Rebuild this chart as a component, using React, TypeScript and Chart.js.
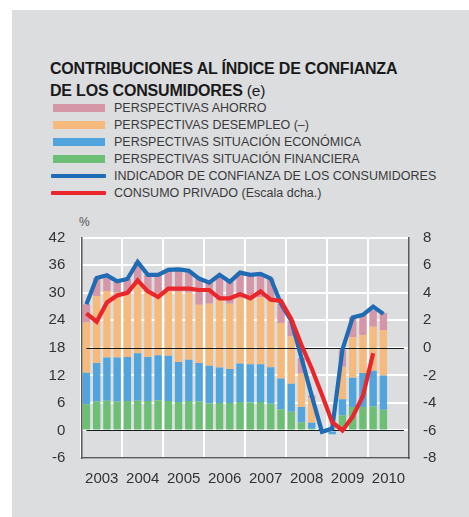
import React, { useEffect, useRef } from 'react';
import { Chart, registerables } from 'chart.js';

Chart.register(...registerables);

const years = ['2003', '2004', '2005', '2006', '2007', '2008', '2009', '2010'];
const quarterNames = ['T1', 'T2', 'T3', 'T4'];
const categories = years.flatMap((y) => quarterNames.map((q) => `${y} ${q}`));

const leftTicks = { min: -6, max: 42, step: 6 };
const rightTicks = { min: -8, max: 8, step: 2 };

const situacionFinanciera = [5.7, 6.3, 6.5, 6.3, 6.4, 6.5, 6.4, 6.6, 6.4, 6.2, 6.4, 6.3, 5.9, 6.0, 6.0, 6.2, 6.1, 6.2, 5.8, 4.6, 4.1, 1.8, 0.4, 0.1, 0.3, 3.3, 5.1, 5.1, 5.2, 4.5];
const situacionEconomica = [6.9, 8.4, 9.4, 9.6, 9.6, 10.3, 9.6, 9.8, 9.9, 8.7, 9.0, 8.4, 8.2, 7.7, 7.4, 8.4, 8.3, 8.2, 8.0, 6.7, 6.1, 3.3, 1.3, 0.2, -0.8, 3.5, 6.4, 7.4, 7.8, 7.5];
const desempleo = [10.9, 14.6, 14.5, 14.1, 13.8, 15.5, 14.1, 13.5, 14.0, 15.3, 14.6, 12.7, 13.5, 14.8, 14.2, 14.2, 14.4, 14.6, 14.5, 12.1, 10.3, 7.3, 5.3, 0, 0.4, 7.1, 8.8, 8.3, 9.6, 9.9];
const ahorro = [4.0, 3.9, 3.4, 2.5, 3.2, 4.4, 3.8, 4.0, 4.7, 4.9, 4.8, 5.7, 4.6, 5.4, 4.8, 5.6, 5.1, 5.1, 4.8, 4.2, 3.4, 3.4, 0.6, 0, 0, 3.7, 4.4, 4.4, 3.6, 3.7];
const indicadorConfianza = [27.5, 33.2, 33.8, 32.5, 33.0, 36.7, 33.9, 33.9, 35.0, 35.1, 34.8, 33.1, 32.2, 33.9, 32.4, 34.4, 33.9, 34.1, 33.1, 27.6, 23.9, 15.8, 7.6, -0.3, 0.4, 17.6, 24.6, 25.2, 27.0, 25.4];
const consumoPrivado = [2.5, 1.9, 3.3, 3.8, 4.0, 4.9, 4.1, 3.7, 4.3, 4.3, 4.3, 4.2, 4.2, 3.6, 3.6, 3.9, 3.6, 4.1, 3.5, 3.4, 2.1, 0.2, -1.5, -3.4, -5.4, -6.0, -5.0, -3.5, -0.4];
const referenceLeft = [0, 18];

const COLORS = {
  pink: '#d597a7',
  orange: '#f7ba7d',
  blue: '#52a4dc',
  green: '#6cbf74',
  lineBlue: '#1f6cb4',
  lineRed: '#e8262b',
};

const legendItems = [
  { label: 'PERSPECTIVAS AHORRO', color: COLORS.pink, type: 'box' },
  { label: 'PERSPECTIVAS DESEMPLEO (–)', color: COLORS.orange, type: 'box' },
  { label: 'PERSPECTIVAS SITUACIÓN ECONÓMICA', color: COLORS.blue, type: 'box' },
  { label: 'PERSPECTIVAS SITUACIÓN FINANCIERA', color: COLORS.green, type: 'box' },
  { label: 'INDICADOR DE CONFIANZA DE LOS CONSUMIDORES', color: COLORS.lineBlue, type: 'line' },
  { label: 'CONSUMO PRIVADO (Escala dcha.)', color: COLORS.lineRed, type: 'line' },
];

const FONT = "'Liberation Sans', Arial, Helvetica, sans-serif";

const refLinesPlugin = {
  id: 'refLines',
  afterDatasetDraw(chart: any, args: any) {
    if (args.index !== 0) return;
    const { ctx, scales } = chart;
    const x0 = scales.x.getPixelForValue(0);
    const x1 = scales.x.getPixelForValue(categories.length - 1);
    ctx.save();
    ctx.strokeStyle = '#1a1a1a';
    ctx.lineWidth = 1.2;
    referenceLeft.forEach((v) => {
      const y = Math.round(scales.y.getPixelForValue(v)) + 0.5;
      ctx.beginPath();
      ctx.moveTo(x0, y);
      ctx.lineTo(x1, y);
      ctx.stroke();
    });
    ctx.restore();
  },
};

export default function App() {
  const canvasRef = useRef<HTMLCanvasElement | null>(null);

  useEffect(() => {
    if (!canvasRef.current) return;
    const barCommon = {
      type: 'bar' as const,
      yAxisID: 'y',
      stack: 'c',
      order: 2,
      barPercentage: 0.72,
      categoryPercentage: 1,
      borderWidth: 0,
    };
    const chart = new Chart(canvasRef.current, {
      type: 'bar',
      data: {
        labels: categories,
        datasets: [
          { ...barCommon, label: 'PERSPECTIVAS SITUACIÓN FINANCIERA', data: situacionFinanciera, backgroundColor: COLORS.green },
          { ...barCommon, label: 'PERSPECTIVAS SITUACIÓN ECONÓMICA', data: situacionEconomica, backgroundColor: COLORS.blue },
          { ...barCommon, label: 'PERSPECTIVAS DESEMPLEO (–)', data: desempleo, backgroundColor: COLORS.orange },
          { ...barCommon, label: 'PERSPECTIVAS AHORRO', data: ahorro, backgroundColor: COLORS.pink },
          {
            type: 'line',
            label: 'INDICADOR DE CONFIANZA DE LOS CONSUMIDORES',
            data: indicadorConfianza,
            yAxisID: 'y',
            borderColor: COLORS.lineBlue,
            borderWidth: 4.2,
            pointRadius: 0,
            tension: 0,
            fill: false,
            order: 1,
          },
          {
            type: 'line',
            label: 'CONSUMO PRIVADO (Escala dcha.)',
            data: consumoPrivado,
            yAxisID: 'y2',
            borderColor: COLORS.lineRed,
            borderWidth: 4.2,
            pointRadius: 0,
            tension: 0,
            fill: false,
            order: 0,
          },
        ] as any,
      },
      options: {
        responsive: false,
        animation: false,
        devicePixelRatio: 1,
        layout: { padding: { left: 21.3, right: 0, top: 237.7, bottom: 19 } },
        plugins: { legend: { display: false }, tooltip: { enabled: false }, title: { display: false } },
        scales: {
          x: {
            type: 'category',
            offset: true,
            grid: {
              offset: true,
              drawTicks: false,
              lineWidth: 2,
              color: (c: any) => (c.index % 4 === 0 ? '#ffffff' : 'rgba(0,0,0,0)'),
            },
            border: { display: true, color: '#5a5a5a', width: 1.5 },
            ticks: {
              autoSkip: false,
              maxRotation: 0,
              minRotation: 0,
              padding: 12,
              labelOffset: 5.12,
              color: '#333',
              font: { family: FONT, size: 15 },
              callback: (_v: any, i: number) => (i % 4 === 1 ? years[Math.floor(i / 4)] : ''),
            },
            afterFit: (s: any) => { s.height = 40; },
          },
          y: {
            position: 'left',
            min: leftTicks.min,
            max: leftTicks.max,
            grid: { color: '#ffffff', lineWidth: 2, drawTicks: false },
            border: { display: true, color: '#5a5a5a', width: 1.5 },
            ticks: { stepSize: leftTicks.step, padding: 16, color: '#333', font: { family: FONT, size: 15 } },
            afterFit: (s: any) => { s.width = 60; },
          },
          y2: {
            position: 'right',
            min: rightTicks.min,
            max: rightTicks.max,
            grid: { display: false, drawTicks: false },
            border: { display: true, color: '#5a5a5a', width: 1.5 },
            ticks: { stepSize: rightTicks.step, padding: 14, color: '#333', font: { family: FONT, size: 15 } },
            afterFit: (s: any) => { s.width = 60; },
          },
        },
      },
      plugins: [refLinesPlugin],
    });
    return () => chart.destroy();
  }, []);

  const rowStart = 100.3;
  const rowStep = 16.9;

  return (
    <div style={{ position: 'absolute', left: 0, top: 0, width: 469, height: 517, background: '#ffffff', overflow: 'hidden', fontFamily: FONT }}>
      <div style={{ position: 'absolute', left: 12, top: 10, width: 457, height: 507, background: '#dcdddf' }} />
      <div style={{ position: 'absolute', left: 50, top: 60.5, fontSize: 16, lineHeight: '16px', fontWeight: 700, color: '#1a1a1a', letterSpacing: '-0.2px', whiteSpace: 'nowrap' }}>
        CONTRIBUCIONES AL ÍNDICE DE CONFIANZA
      </div>
      <div style={{ position: 'absolute', left: 50, top: 83.2, fontSize: 16, lineHeight: '16px', color: '#1a1a1a', letterSpacing: '-0.2px', whiteSpace: 'nowrap' }}>
        <span style={{ fontWeight: 700 }}>DE LOS CONSUMIDORES</span>
        <span style={{ fontWeight: 400, fontSize: 15.5 }}> (e)</span>
      </div>
      {legendItems.map((it, i) => (
        <div key={it.label} style={{ position: 'absolute', left: 51, top: rowStart + i * rowStep, height: 16, display: 'flex', alignItems: 'center', whiteSpace: 'nowrap' }}>
          {it.type === 'box' ? (
            <div style={{ width: 52, height: 7.7, marginLeft: 2, marginRight: 9, background: it.color }} />
          ) : (
            <div style={{ width: 55, height: 4, marginRight: 8, background: it.color, borderRadius: 1 }} />
          )}
          <span style={{ fontSize: 12.5, lineHeight: '16px', color: '#3a3a3a' }}>{it.label}</span>
        </div>
      ))}
      <div style={{ position: 'absolute', left: 79, top: 215, fontSize: 12, lineHeight: '14px', color: '#555' }}>%</div>
      <canvas ref={canvasRef} width={469} height={517} style={{ position: 'absolute', left: 0, top: 0, width: 469, height: 517 }} />
    </div>
  );
}
